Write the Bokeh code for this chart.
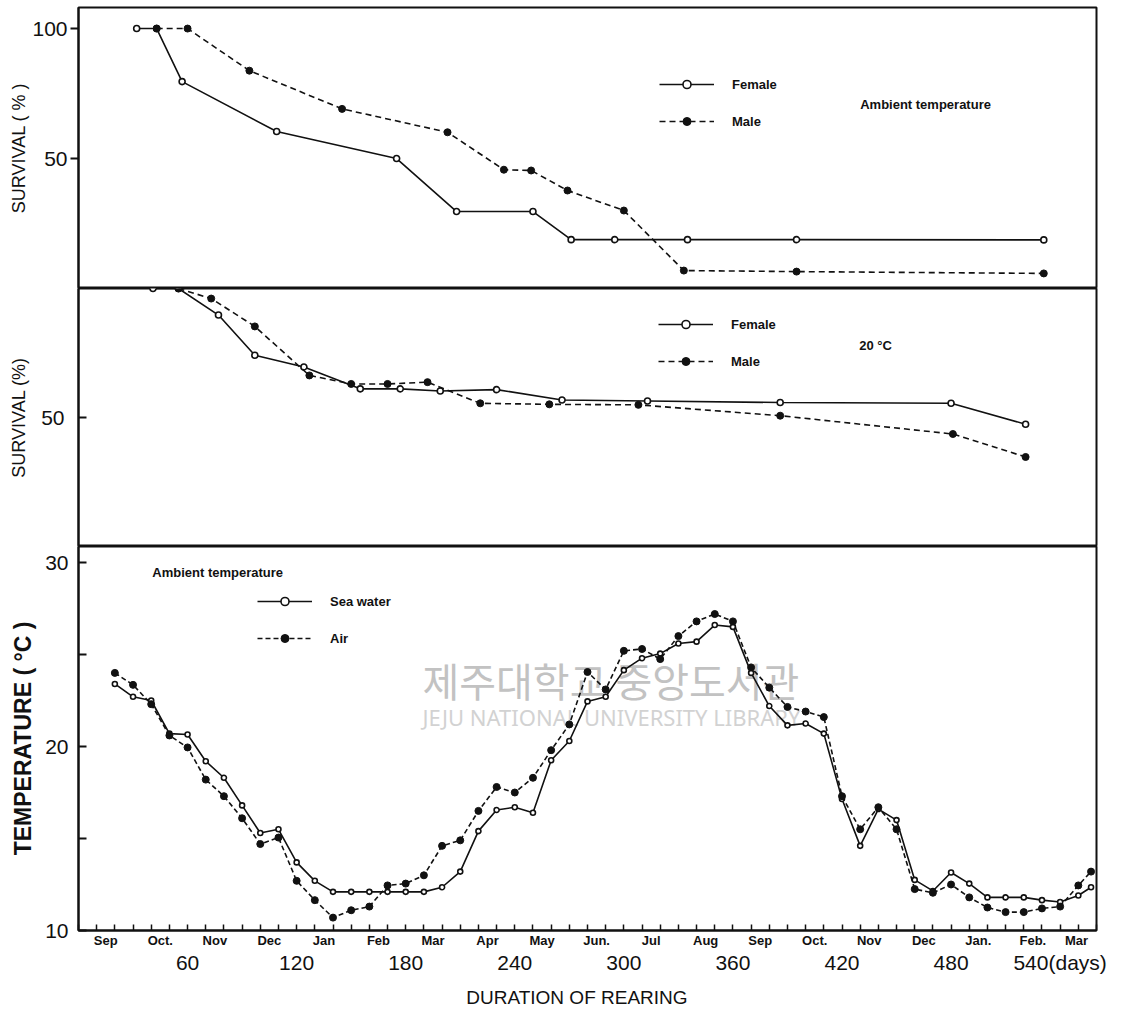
from bokeh.plotting import figure
from bokeh.layouts import column
from bokeh.models import FixedTicker, LinearAxis, Legend, LegendItem, Label, Range1d
from bokeh.embed import file_html
from bokeh.resources import INLINE

# ---------------- data ----------------
# Top panel: survival (%) at ambient temperature
amb_female_day = [32, 43, 57, 109, 175, 208, 250, 271, 295, 335, 395, 531]
amb_female_surv = [100, 100, 79.6, 60.4, 50.0, 29.6, 29.6, 18.8, 18.8, 18.8, 18.8, 18.7]
amb_male_day = [43, 60, 94, 145, 203, 234, 249, 269, 300, 333, 395, 531]
amb_male_surv = [100, 100, 83.8, 69.1, 60.1, 45.7, 45.4, 37.7, 30.0, 6.9, 6.5, 5.8]

# Middle panel: survival (%) at 20 °C
c20_female_day = [41, 55, 77, 97, 124, 155, 177, 199, 230, 266, 313, 386, 480, 521]
c20_female_surv = [100, 100, 89.7, 74.1, 69.6, 61.1, 61.1, 60.3, 60.8, 56.8, 56.4, 55.8, 55.5, 47.4]
c20_male_day = [55, 73, 97, 127, 150, 170, 192, 221, 259, 308, 386, 481, 521]
c20_male_surv = [100, 96.1, 85.3, 66.3, 63.0, 63.0, 63.7, 55.5, 55.1, 54.9, 50.7, 43.6, 34.7]

# Bottom panel: ambient temperature (°C)
temp_day = [20, 30, 40, 50, 60, 70, 80, 90, 100, 110, 120, 130, 140, 150, 160, 170, 180, 190,
            200, 210, 220, 230, 240, 250, 260, 270, 280, 290, 300, 310, 320, 330, 340, 350,
            360, 370, 380, 390, 400, 410, 420, 430, 440, 450, 460, 470, 480, 490, 500, 510,
            520, 530, 540, 550, 557]
sea_water = [23.4, 22.7, 22.5, 20.7, 20.65, 19.2, 18.3, 16.8, 15.3, 15.5, 13.7, 12.7, 12.1, 12.1,
             12.1, 12.1, 12.1, 12.1, 12.35, 13.2, 15.4, 16.55, 16.7, 16.4, 19.25, 20.3, 22.45,
             22.7, 24.15, 24.8, 25.05, 25.6, 25.7, 26.6, 26.5, 24.0, 22.2, 21.15, 21.25, 20.7,
             17.15, 14.6, 16.6, 16.0, 12.75, 12.15, 13.15, 12.55, 11.8, 11.8, 11.8, 11.65, 11.55,
             11.9, 12.35]
air = [24.0, 23.35, 22.3, 20.6, 19.95, 18.2, 17.3, 16.1, 14.7, 15.05, 12.7, 11.65, 10.7, 11.1,
       11.3, 12.45, 12.55, 13.0, 14.6, 14.9, 16.5, 17.8, 17.5, 18.3, 19.8, 21.2, 24.05, 23.1,
       25.2, 25.3, 24.75, 26.0, 26.8, 27.2, 26.8, 24.3, 23.2, 22.15, 21.9, 21.6, 17.3, 15.5,
       16.7, 15.5, 12.25, 12.05, 12.5, 11.8, 11.25, 11.0, 11.0, 11.2, 11.3, 12.45, 13.2]

# Axis ticks / labels
day_ticks = [60, 120, 180, 240, 300, 360, 420, 480, 540]
day_labels = {540: "540(days)"}
minor_day_ticks = list(range(0, 561, 10))
month_days = [15, 45, 75, 105, 135, 165, 195, 225, 255, 285, 315, 345, 375, 405, 435, 465, 495, 525, 549]
month_names = ["Sep", "Oct.", "Nov", "Dec", "Jan", "Feb", "Mar", "Apr", "May", "Jun.", "Jul", "Aug",
               "Sep", "Oct.", "Nov", "Dec", "Jan.", "Feb.", "Mar"]

FONT = "Liberation Sans"
INK = "#111111"
W = 1145
LEFT, RIGHT = 78, 49
XR = (0, 560)


def base_fig(height, y_range, top=0, bottom=0):
    p = figure(width=W, height=height, x_range=Range1d(*XR), y_range=Range1d(*y_range),
               x_axis_location=None, output_backend="svg", toolbar_location=None,
               min_border_left=LEFT, min_border_right=RIGHT, min_border_top=top,
               min_border_bottom=bottom)
    p.grid.visible = False
    p.outline_line_color = INK
    p.outline_line_width = 2
    p.background_fill_color = "white"
    p.border_fill_color = "white"
    return p


def style_y(p, ticks, label, tick_in, tick_out, standoff, label_standoff, label_size="18px",
            label_style="normal", overrides=None):
    ax = p.yaxis[0]
    ax.ticker = FixedTicker(ticks=ticks, minor_ticks=[])
    ax.major_tick_in = tick_in
    ax.major_tick_out = tick_out
    ax.major_tick_line_width = 2
    ax.major_tick_line_color = INK
    ax.axis_line_color = INK
    ax.axis_line_width = 2
    ax.major_label_standoff = standoff
    ax.major_label_text_font = FONT
    ax.major_label_text_font_size = "21px"
    ax.major_label_text_color = INK
    if overrides:
        ax.major_label_overrides = overrides
    ax.axis_label = label
    ax.axis_label_text_font = FONT
    ax.axis_label_text_font_size = label_size
    ax.axis_label_text_font_style = label_style
    ax.axis_label_text_color = INK
    ax.axis_label_standoff = label_standoff


def add_legend(p, items, loc):
    lg = Legend(items=items, location=loc, glyph_width=55, glyph_height=20, label_height=20,
                spacing=17, padding=0, margin=0, label_standoff=18,
                border_line_alpha=0, background_fill_alpha=0,
                label_text_font=FONT, label_text_font_size="13px",
                label_text_font_style="bold", label_text_color=INK)
    p.add_layout(lg)


def series(p, x, y, solid, size):
    if solid:
        ln = p.line(x, y, line_color=INK, line_width=1.6)
        sc = p.scatter(x, y, marker="circle", size=size, fill_color="white",
                       line_color=INK, line_width=1.6)
    else:
        ln = p.line(x, y, line_color=INK, line_width=1.6, line_dash="6 4")
        sc = p.scatter(x, y, marker="circle", size=size + 1, fill_color=INK, line_color=INK)
    return ln, sc


# ---------------- top panel ----------------
p1 = base_fig(288, (0, 108.1), top=7)
style_y(p1, [50, 100], "SURVIVAL ( % )", 0, 8, 3, 0)
f1 = series(p1, amb_female_day, amb_female_surv, True, 6)
m1 = series(p1, amb_male_day, amb_male_surv, False, 6)
add_legend(p1, [LegendItem(label="Female", renderers=list(f1)),
                LegendItem(label="Male", renderers=list(m1))], (581, 157))
p1.add_layout(Label(x=430, y=70.8, text="Ambient  temperature", text_font=FONT,
                    text_font_size="13px", text_font_style="bold", text_color=INK,
                    text_baseline="middle"))

# ---------------- middle panel ----------------
p2 = base_fig(258, (0, 100))
style_y(p2, [50], "SURVIVAL (%)", 8, 0, 14, 9)
f2 = series(p2, c20_female_day, c20_female_surv, True, 6)
m2 = series(p2, c20_male_day, c20_male_surv, False, 6)
add_legend(p2, [LegendItem(label="Female", renderers=list(f2)),
                LegendItem(label="Male", renderers=list(m2))], (580, 175))
p2.add_layout(Label(x=429.5, y=77.9, text="20 °C", text_font=FONT, text_font_size="13px",
                    text_font_style="bold", text_color=INK, text_baseline="middle"))

# ---------------- bottom panel ----------------
p3 = base_fig(465, (10, 30.87), bottom=81)
style_y(p3, [10, 15, 20, 25, 30], "TEMPERATURE ( °C )", 8, 0, 10, 6, label_size="23px",
        label_style="bold", overrides={15: "", 25: ""})

# watermark of the scanned source (behind the data)
p3.add_layout(Label(x=189.2, y=23.59, text="제주대학교 중앙도서관", text_font="Noto Sans CJK KR",
                    text_font_size="40px", text_color="#c2c2c2", text_baseline="middle",
                    level="underlay"))
p3.add_layout(Label(x=189.2, y=21.58, text="JEJU NATIONAL UNIVERSITY LIBRARY", text_font="Noto Sans",
                    text_font_size="22px", text_color="#d2d2d2", text_baseline="middle",
                    level="underlay"))

s3 = series(p3, temp_day, sea_water, True, 5)
a3_line = p3.line(temp_day, air, line_color=INK, line_width=1.6, line_dash="5 3")
a3_sc = p3.scatter(temp_day, air, marker="circle", size=7, fill_color=INK, line_color=INK)
add_legend(p3, [LegendItem(label="Sea water", renderers=list(s3)),
                LegendItem(label="Air", renderers=[a3_line, a3_sc])], (179, 282))
p3.add_layout(Label(x=40.6, y=29.47, text="Ambient  temperature", text_font=FONT,
                    text_font_size="13px", text_font_style="bold", text_color=INK,
                    text_baseline="middle"))

# month axis (nearest the frame), with 10-day tick marks pointing inward
month_axis = LinearAxis(ticker=FixedTicker(ticks=month_days, minor_ticks=minor_day_ticks),
                        major_label_overrides={d: n for d, n in zip(month_days, month_names)})
month_axis.major_tick_line_color = None
month_axis.major_tick_in = 0
month_axis.major_tick_out = 0
month_axis.minor_tick_in = 6
month_axis.minor_tick_out = 0
month_axis.minor_tick_line_color = INK
month_axis.minor_tick_line_width = 1.5
month_axis.axis_line_color = INK
month_axis.axis_line_width = 2
month_axis.major_label_standoff = 2
month_axis.major_label_text_font = FONT
month_axis.major_label_text_font_size = "13px"
month_axis.major_label_text_font_style = "bold"
month_axis.major_label_text_color = INK
p3.add_layout(month_axis, "below")

# day-count axis
day_axis = LinearAxis(ticker=FixedTicker(ticks=day_ticks, minor_ticks=[]),
                      major_label_overrides=day_labels)
day_axis.axis_line_color = None
day_axis.major_tick_line_color = None
day_axis.minor_tick_line_color = None
day_axis.major_tick_in = 0
day_axis.major_tick_out = 0
day_axis.minor_tick_in = 0
day_axis.minor_tick_out = 0
day_axis.major_label_standoff = 0
day_axis.major_label_text_font = FONT
day_axis.major_label_text_font_size = "21px"
day_axis.major_label_text_color = INK
day_axis.axis_label = "DURATION   OF   REARING"
day_axis.axis_label_text_font = FONT
day_axis.axis_label_text_font_size = "19px"
day_axis.axis_label_text_font_style = "normal"
day_axis.axis_label_text_color = INK
day_axis.axis_label_standoff = 10
p3.add_layout(day_axis, "below")

layout = column(p1, p2, p3, spacing=0)
open("out.html", "w").write(file_html(layout, INLINE))
